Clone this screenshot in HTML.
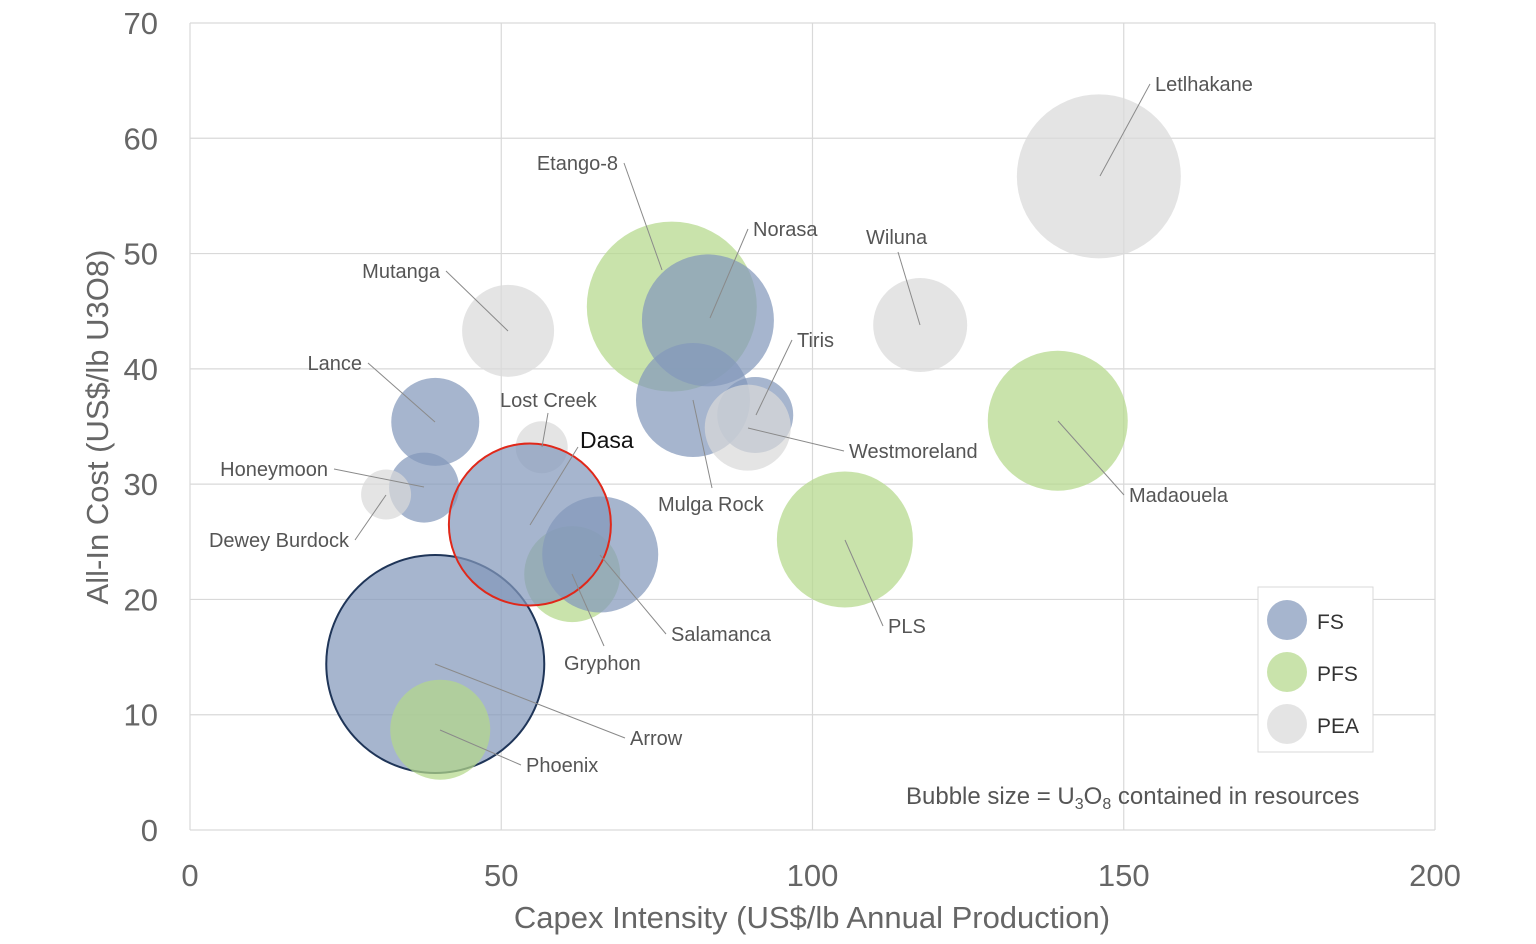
<!DOCTYPE html>
<html><head><meta charset="utf-8"><style>
body{margin:0;background:#fff;}
svg{display:block;font-family:"Liberation Sans",sans-serif;}
</style></head><body>
<svg id="chart" width="1536" height="944"></svg>
<script>
const names=["Arrow","Phoenix","Letlhakane","Wiluna","Mutanga","Etango-8","Norasa","Mulga Rock","Tiris","Westmoreland","Lance","Lost Creek","Honeymoon","Dewey Burdock","Gryphon","Salamanca","Dasa","Madaouela","PLS"];
const xs=[39.4,40.2,146,117.3,51.1,77.4,83.2,80.8,90.8,89.6,39.4,56.5,37.6,31.5,61.4,65.9,54.6,139.4,105.2];
const ys=[14.4,8.7,56.7,43.8,43.3,45.4,44.2,37.3,36,34.9,35.4,33.2,29.7,29.1,22.2,23.9,26.5,35.5,25.2];
const sizes=[109,50,82,47,46,85,66,57,38,43,44,26,35,25,48,58,81,70,68];
const stages=["FS","PFS","PEA","PEA","PEA","PFS","FS","FS","FS","PEA","FS","PEA","FS","PEA","PFS","FS","FS","PFS","PFS"];
const xTicks=[0,50,100,150,200];
const yTicks=[0,10,20,30,40,50,60,70];
const labelPos={
"Letlhakane":[1155,84,"start",1150,84,1100,176],
"Etango-8":[618,163,"end",624,163,662,270],
"Norasa":[753,229,"start",748,229,710,318],
"Wiluna":[866,237,"start",898,252,920,325],
"Tiris":[797,340,"start",792,340,756,415],
"Westmoreland":[849,451,"start",844,451,748,428],
"Madaouela":[1129,495,"start",1124,495,1058,421],
"PLS":[888,626,"start",883,626,845,540],
"Mulga Rock":[658,504,"start",712,488,693,400],
"Mutanga":[440,271,"end",446,271,508,331],
"Lance":[362,363,"end",368,363,435,422],
"Lost Creek":[500,400,"start",548,413,542,447],
"Honeymoon":[328,469,"end",334,469,424,487],
"Dewey Burdock":[349,540,"end",355,540,386,495],
"Salamanca":[671,634,"start",666,634,600,555],
"Gryphon":[564,663,"start",604,646,572,574],
"Arrow":[630,738,"start",625,738,435,664],
"Phoenix":[526,765,"start",521,765,440,730]};
const X0=190,X1=1435,Y0=830,Y1=23;
const sx=v=>X0+(X1-X0)*v/200, sy=v=>Y0-(Y0-Y1)*v/70;
const fill={FS:"#8499bb",PFS:"#b4d88a",PEA:"#dadada"};
const NS="http://www.w3.org/2000/svg";
const svg=document.getElementById("chart");
function el(t,a,p){const e=document.createElementNS(NS,t);for(const k in a)e.setAttribute(k,a[k]);(p||svg).appendChild(e);return e;}
xTicks.forEach(t=>{
 const l=el("line",{x1:sx(t),x2:sx(t),y1:Y1,y2:Y0,stroke:"#d9d9d9","stroke-width":1.2});
 
 
 const tx=el("text",{x:sx(t),y:886,"text-anchor":"middle","font-size":31,fill:"#666"});tx.textContent=t;
 
 
});
yTicks.forEach(t=>{
 const l=el("line",{x1:X0,x2:X1,y1:sy(t),y2:sy(t),stroke:"#d9d9d9","stroke-width":1.2});
 
 
 const tx=el("text",{x:158,y:sy(t)+11,"text-anchor":"end","font-size":31,fill:"#666"});tx.textContent=t;
 
 
});
names.forEach((n,i)=>{
 const a={cx:sx(xs[i]),cy:sy(ys[i]),r:sizes[i],fill:fill[stages[i]],"fill-opacity":0.72};
 if(n==="Arrow"){a.stroke="#1f3558";a["stroke-width"]=2;}
 if(n==="Dasa"){a.stroke="#e0281a";a["stroke-width"]=2;}
 const c=el("circle",a);
 
 
});
names.forEach((n,i)=>{
 const p=labelPos[n]; if(!p)return;
 const pl=el("polyline",{points:`${p[3]},${p[4]} ${p[5]},${p[6]}`,fill:"none",stroke:"#8a8a8a","stroke-width":1});
 
 
 const t=el("text",{x:p[0],y:p[1]+7,"text-anchor":p[2],"font-size":20,fill:"#555"});t.textContent=n;
 
 
});
const dl=el("text",{x:580,y:448,"font-size":23,fill:"#111"});dl.textContent="Dasa";


const dline=el("line",{x1:578,y1:447,x2:530,y2:525,stroke:"#8a8a8a","stroke-width":1});


const xt=el("text",{x:812,y:928,"text-anchor":"middle","font-size":31,fill:"#666"});xt.textContent="Capex Intensity (US$/lb Annual Production)";


const yt=el("text",{x:0,y:0,"text-anchor":"middle","font-size":31,fill:"#666",transform:"translate(108,427) rotate(-90)"});yt.textContent="All-In Cost (US$/lb U3O8)";


const lg=el("g",{});


el("rect",{x:1258,y:587,width:115,height:165,fill:"#fff",stroke:"#d9d9d9"},lg);
[["FS",620],["PFS",672],["PEA",724]].forEach(([s,y])=>{
 const g=el("g",{},lg);
 
 
 el("circle",{cx:1287,cy:y,r:20,fill:fill[s],"fill-opacity":0.72},g);
 const t=el("text",{x:1317,y:y+9,"font-size":21,fill:"#333"},g);t.textContent=s;
});
const note=el("text",{x:906,y:804,"font-size":24,fill:"#555"});
note.innerHTML='Bubble size = U<tspan font-size="16" dy="5">3</tspan><tspan dy="-5">O</tspan><tspan font-size="16" dy="5">8</tspan><tspan dy="-5"> contained in resources</tspan>';


</script>
</body></html>
